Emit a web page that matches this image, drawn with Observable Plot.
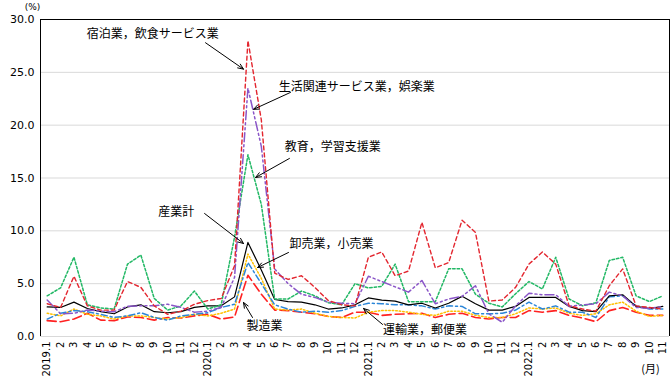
<!DOCTYPE html>
<html><head><meta charset="utf-8">
<script src="https://cdn.jsdelivr.net/npm/d3@7"></script>
<script src="https://cdn.jsdelivr.net/npm/@observablehq/plot@0.6"></script>
<style>body{margin:0;background:#fff}</style>
</head><body><div id="chart"></div>
<script>
const monthLabels = ["2019.1","2","3","4","5","6","7","8","9","10","11","12",
  "2020.1","2","3","4","5","6","7","8","9","10","11","12",
  "2021.1","2","3","4","5","6","7","8","9","10","11","12",
  "2022.1","2","3","4","5","6","7","8","9","10","11"];
const yTicks = [0,5,10,15,20,25,30];

const seriesNames = ["製造業","卸売業，小売業","運輸業，郵便業","産業計","教育，学習支援業","生活関連サービス業，娯楽業","宿泊業，飲食サービス業"];

const manufacturing = [1.5,1.4,1.65,2.2,1.55,1.5,1.85,1.8,1.55,1.8,1.75,1.95,
  2.1,1.65,1.85,5.8,4.0,2.5,2.45,2.3,2.15,1.9,1.8,2.3,
  2.3,2.0,2.1,2.15,2.2,1.8,2.1,2.2,1.8,1.65,1.8,1.8,
  2.45,2.3,2.45,2.0,1.75,1.4,2.45,2.75,2.3,2.0,2.0];
const wholesale = [2.2,1.95,2.6,2.1,1.95,1.65,1.95,1.95,1.8,1.65,1.8,2.1,
  1.95,2.2,2.6,7.8,5.5,2.6,2.5,2.6,2.2,1.9,1.8,1.75,
  2.3,2.45,2.45,2.3,2.1,2.0,2.4,2.4,2.0,1.8,1.8,2.15,
  2.7,2.6,2.7,2.2,2.0,2.15,3.0,3.25,2.4,1.9,2.0];
const transport = [1.65,2.2,2.45,2.35,2.1,1.8,1.95,2.25,1.8,1.55,1.95,2.1,
  2.25,2.75,3.05,7.0,5.0,3.0,2.6,2.3,2.4,2.3,2.45,2.85,
  3.15,3.1,3.0,3.0,2.9,2.6,2.9,2.85,2.15,2.15,2.2,2.5,
  3.25,2.6,2.9,2.3,2.3,1.8,3.75,3.85,2.9,2.6,2.6];
const allIndustries = [2.8,2.75,3.25,2.65,2.35,2.15,2.8,3.0,2.35,2.25,2.35,2.75,
  2.9,2.9,3.75,8.9,6.3,3.5,3.3,3.25,3.0,2.6,2.7,3.0,
  3.65,3.45,3.35,3.0,3.15,2.7,3.15,3.8,3.1,2.5,2.5,2.85,
  3.7,3.7,3.7,2.85,2.45,2.35,3.85,3.95,2.85,2.65,2.85];
const education = [3.85,4.6,7.5,3.0,2.7,2.6,6.85,7.7,3.6,2.5,2.9,4.3,
  2.6,3.0,9.4,17.2,12.5,3.55,3.55,4.3,3.85,3.2,3.0,5.0,
  4.6,4.75,6.85,3.3,3.3,3.3,6.4,6.4,4.0,3.15,2.8,4.05,
  5.2,4.5,7.5,3.55,2.9,3.2,7.2,7.5,3.85,3.3,3.85];
const livingServices = [3.45,2.15,2.2,2.5,2.4,2.35,2.85,2.9,2.9,3.05,2.75,2.3,
  2.4,2.75,5.6,23.5,18.0,6.4,5.0,4.0,3.7,3.25,3.15,3.1,
  5.7,5.2,4.7,4.2,5.3,3.1,3.55,3.8,4.8,2.15,1.35,2.9,
  4.1,3.95,3.95,2.85,3.0,3.1,4.2,3.85,2.75,2.65,2.85];
const accommodation = [3.1,2.75,5.7,2.9,2.5,2.5,5.2,4.65,2.9,2.1,2.4,3.05,
  3.4,3.6,6.7,28.0,20.5,6.0,5.4,5.75,4.65,3.4,3.0,2.9,
  7.5,8.0,5.75,6.2,10.8,6.5,7.0,11.0,9.85,3.35,3.45,4.65,
  6.85,8.0,6.85,2.9,2.6,2.4,4.8,6.4,2.9,2.75,2.6];

const seriesValues = [manufacturing, wholesale, transport, allIndustries, education, livingServices, accommodation];

const styles = {
  "製造業": {stroke: "#ff2121", dash: "9,4", width: 1.6},
  "卸売業，小売業": {stroke: "#ffc000", dash: "1.5,2", width: 1.5},
  "運輸業，郵便業": {stroke: "#2b86d8", dash: "6,3,2,3", width: 1.5},
  "産業計": {stroke: "#000000", dash: null, width: 1.2},
  "教育，学習支援業": {stroke: "#22b865", dash: "2.5,2", width: 1.5},
  "生活関連サービス業，娯楽業": {stroke: "#8a55c8", dash: "9,3,2,3,2,3", width: 1.5},
  "宿泊業，飲食サービス業": {stroke: "#e3262f", dash: "4,3", width: 1.4}
};

// annotation label (left edge) & arrow positions, in (month index, value)
const annotations = [
  {label: "宿泊業，飲食サービス業", tx: 2.95, ty: 28.6, ax1: 11.83, ay1: 27.8, ax2: 14.67, ay2: 25.3},
  {label: "生活関連サービス業，娯楽業", tx: 17.3, ty: 23.55, ax1: 18.18, ay1: 23.1, ax2: 15.42, ay2: 21.5},
  {label: "教育，学習支援業", tx: 17.75, ty: 17.9, ax1: 18.1, ay1: 16.85, ax2: 15.57, ay2: 15.05},
  {label: "産業計", tx: 8.3, ty: 11.8, ax1: 11.76, ay1: 11.64, ax2: 14.67, ay2: 8.8},
  {label: "卸売業，小売業", tx: 18.1, ty: 8.7, ax1: 18.03, ay1: 7.95, ax2: 15.72, ay2: 6.53},
  {label: "製造業", tx: 14.9, ty: 0.95, ax1: 15.34, ay1: 1.8, ax2: 14.67, ay2: 3.22},
  {label: "運輸業，郵便業", tx: 25.1, ty: 0.57, ax1: 25.06, ay1: 1.14, ax2: 23.64, ay2: 2.65}
];

const idx = d3.range(monthLabels.length);
const lineMarks = seriesNames.map((name, s) => {
  const st = styles[name];
  const data = idx.map(i => ({i, v: seriesValues[s][i]}));
  return Plot.line(data, {x: "i", y: "v", stroke: st.stroke, strokeWidth: st.width,
    strokeDasharray: st.dash, strokeLinejoin: "round"});
});

const chart = Plot.plot({
  width: 670, height: 381,
  marginLeft: 40, marginRight: 1, marginTop: 19, marginBottom: 45,
  style: {fontFamily: "DejaVu Sans", fontSize: "11px", background: "white", color: "#000", overflow: "visible"},
  x: {type: "linear", domain: [-0.5, idx.length - 0.5]},
  y: {domain: [0, 30]},
  marks: [
    Plot.gridY(yTicks.filter(d => d > 0 && d < 30), {stroke: "#d9d9d9", strokeOpacity: 1}),
    Plot.ruleY([0], {stroke: "#d9d9d9"}),
    Plot.axisY({ticks: yTicks, tickFormat: d3.format(".1f"), tickSize: 0, tickPadding: 6, label: null, fontSize: 11}),
    Plot.axisX({ticks: idx, tickFormat: i => monthLabels[i], tickRotate: -90, tickSize: 0, tickPadding: 5, label: null, fontSize: 10}),
    ...lineMarks,
    Plot.ruleX([-0.5], {stroke: "#000"}),
    Plot.ruleX([idx.length - 0.5], {stroke: "#000"}),
    Plot.ruleY([30], {stroke: "#000"}),
    Plot.arrow(annotations, {x1: "ax1", y1: "ay1", x2: "ax2", y2: "ay2", stroke: "#000", strokeWidth: 1, headLength: 9, headAngle: 45}),
    Plot.text(annotations, {x: "tx", y: "ty", text: "label", textAnchor: "start",
      fontFamily: "Noto Sans CJK JP", fontSize: 12, fill: "#000"}),
    Plot.text(["(%)"], {frameAnchor: "top-left", dx: -8, dy: -12, textAnchor: "middle", lineAnchor: "middle", fontSize: 9}),
    Plot.text(["(月)"], {frameAnchor: "bottom-right", dx: -19, dy: 33, textAnchor: "middle", lineAnchor: "middle", fontSize: 11, fontFamily: "Noto Sans CJK JP"})
  ]
});
document.getElementById("chart").appendChild(chart);
</script>
</body></html>
